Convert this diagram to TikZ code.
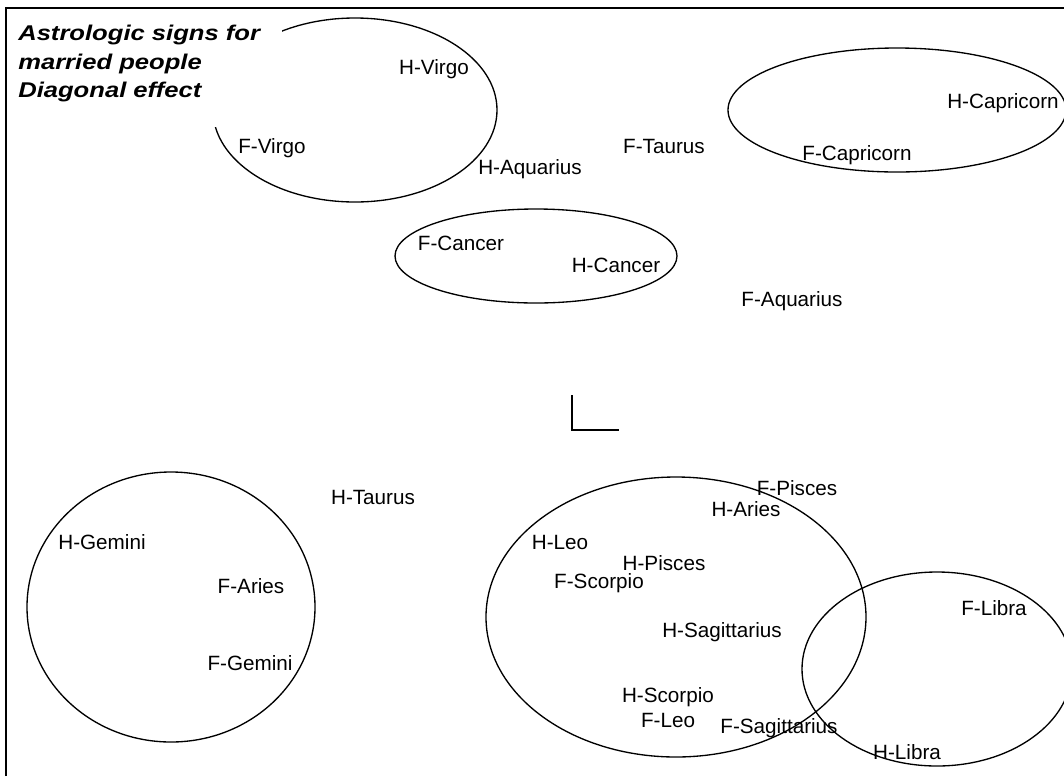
\documentclass[tikz,border=0pt]{standalone}
\usepackage{fontspec}
\setmainfont{Liberation Sans}
\newfontfamily\titlefont[FakeStretch=1.2]{Liberation Sans}

\begin{document}
\begin{tikzpicture}[x=0.75pt,y=-0.75pt,
  lbl/.style={inner sep=0pt,anchor=base,font=\fontsize{15.5}{18}\selectfont},
  titletext/.style={inner sep=0pt,anchor=base west,font=\titlefont\fontsize{16}{20}\selectfont\bfseries\itshape},
  ring/.style={line width=1pt}]
\useasboundingbox (0,0) rectangle (1064,776);
\clip (0,0) rectangle (1064,776);
\fill[white] (0,0) rectangle (1064,776);
%\draw[step=50,gray,very thin] (0,0) grid (1064,776); %help grid
\draw[ring] (355,110) ellipse [x radius=142, y radius=92]; %virgo
\draw[ring] (897,110) ellipse [x radius=169, y radius=62]; %capricorn
\draw[ring] (536,256) ellipse [x radius=141, y radius=47]; %cancer
\draw[ring] (171,607) ellipse [x radius=144, y radius=135]; %gemini
\draw[ring] (676,617) ellipse [x radius=190, y radius=140]; %big one
\draw[ring] (937,669) ellipse [x radius=135, y radius=97]; %libra
\fill[white] (8,10) rectangle (282,127); %title box over virgo
\node[titletext] (title1) at (18,40) {Astrologic signs for};
\node[titletext] (title2) at (18,69) {married people};
\node[titletext] (title3) at (18,97) {Diagonal effect};
% upper half
\node[lbl] (hvirgo) at (434,74) {H-Virgo};
\node[lbl] (fvirgo) at (272,153) {F-Virgo};
\node[lbl] (haquarius) at (530,174) {H-Aquarius};
\node[lbl] (ftaurus) at (664,153) {F-Taurus};
\node[lbl] (hcapricorn) at (1003,108) {H-Capricorn};
\node[lbl] (fcapricorn) at (857,160) {F-Capricorn};
\node[lbl] (fcancer) at (461,250) {F-Cancer};
\node[lbl] (hcancer) at (616,272) {H-Cancer};
\node[lbl] (faquarius) at (792,306) {F-Aquarius};
% lower half
\node[lbl] (htaurus) at (373,504) {H-Taurus};
\node[lbl] (hgemini) at (102,549) {H-Gemini};
\node[lbl] (faries) at (251,593) {F-Aries};
\node[lbl] (fgemini) at (250,670) {F-Gemini};
\node[lbl] (fpisces) at (797,495) {F-Pisces};
\node[lbl] (haries) at (746,516) {H-Aries};
\node[lbl] (hleo) at (560,549) {H-Leo};
\node[lbl] (hpisces) at (664,570) {H-Pisces};
\node[lbl] (fscorpio) at (599,588) {F-Scorpio};
\node[lbl] (hsagittarius) at (722,637) {H-Sagittarius};
\node[lbl] (flibra) at (994,615) {F-Libra};
\node[lbl] (hscorpio) at (668,702) {H-Scorpio};
\node[lbl] (fleo) at (668,727) {F-Leo};
\node[lbl] (fsagittarius) at (779,733) {F-Sagittarius};
\node[lbl] (hlibra) at (907,759) {H-Libra};
\draw[line width=1.5pt] (572,395) -- (572,430) -- (619,430); %corner mark
\draw[line width=1.5pt] (6,776) -- (6,8) -- (1064,8); %frame
\end{tikzpicture}
\end{document}
